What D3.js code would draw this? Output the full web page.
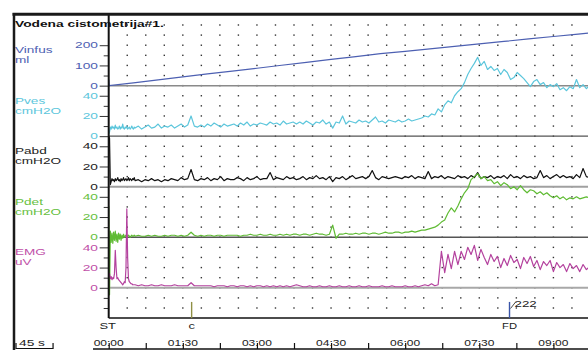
<!DOCTYPE html>
<html><head><meta charset="utf-8">
<script src="https://cdn.jsdelivr.net/npm/d3@7"></script>
<style>html,body{margin:0;padding:0;background:#fff;} svg{display:block;font-family:"Liberation Sans",Arial,sans-serif;}</style>
</head><body><svg id="chart" width="588" height="350"></svg>
<script>
// ---------------- DATA ----------------
const chartTitle = "Vodena cistometrija#1.";
const channelNames = ["Vinfus", "Pves", "Pabd", "Pdet", "EMG"];
const channelUnits = ["ml", "cmH2O", "cmH2O", "cmH2O", "uV"];
const channelColors = ["#4d60b2", "#5cc6dc", "#111111", "#5fbb33", "#b4429e"];
const channelLabelColors = ["#4d60b2", "#5cc6dc", "#222222", "#66c040", "#c050a8"];
const channelTickLabels = [[0, 100, 200], [0, 20, 40], [0, 20, 40], [0, 20, 40], [0, 20, 40]];
const channelFullScale = [250, 50, 50, 50, 50];

// infused volume (ml) vs time (s)
const vinfusTimes = [0, 0.6, 30, 60, 90, 120, 150, 180, 210, 240, 270, 300, 330, 360, 390, 420, 450, 480, 510, 540, 570, 582];
const vinfusValues = [30, 0, 14, 29, 43, 58, 72, 86, 101, 115, 130, 144, 158, 170, 182, 194, 207, 219, 231, 243, 255, 260];

// pressure / EMG sample times (s): 1 s for the first 32 s, then every 4 s
const sampleTimes = [...d3.range(0, 32, 1), ...d3.range(32, 585, 4)];

const pvesValues = [
  2,4,9,7,10,8,9,7,11,8, 9,7,8,10,7,9,8,12,8,7, 9,8,10,7,8,9,7,8,10,8, 7,9,
  8,10,7,9,11,8,9,12,8,10,
  9,11,8,10,12,9,11,20,10,9,
  11,9,12,10,13,11,9,12,10,11,
  12,10,13,11,14,10,12,11,13,12,
  11,14,12,13,11,15,12,13,14,12,
  14,12,15,13,11,14,13,16,12,14,
  8,14,13,20,12,15,14,13,16,14,
  15,13,16,19,14,15,13,16,15,14,
  16,14,15,17,15,16,17,18,20,19,
  22,21,27,24,31,35,33,40,44,47,
  53,61,67,72,78,70,74,66,69,65,
  67,61,66,63,56,58,63,60,57,53,
  49,54,56,51,53,48,51,49,52,46,
  48,45,49,47,56,48,51,47,50
];
const pabdValues = [
  50,48,2,5,8,6,7,5,8,6, 7,9,6,7,5,8,6,7,9,6, 7,8,6,7,9,6,8,7,6,8, 7,9,
  6,7,5,7,6,8,6,7,5,7,
  6,8,7,6,9,7,8,17,7,6,
  8,7,9,6,8,7,10,6,8,7,
  7,9,8,6,9,7,8,10,7,8,
  8,14,7,9,8,7,10,8,9,7,
  8,10,7,9,8,11,8,9,7,10,
  5,9,8,10,7,9,11,8,9,10,
  8,10,16,9,7,10,9,8,9,10,
  9,8,10,9,11,8,10,9,8,15,
  8,10,9,11,8,10,9,8,11,9,
  10,8,11,9,14,8,10,9,11,8,
  10,9,11,8,12,9,10,8,11,9,
  10,8,9,16,9,11,8,10,12,9,
  11,9,10,8,12,9,18,10,9
];
const pdetValues = [
  31,-57,6,-5,4,-6,5,-3,6,-4, 3,-5,4,-2,3,-3,2,-1,3,0, 1,2,0,1,2,1,0,1,2,1, 1,2,
  1,2,1,1,2,1,2,1,1,2,
  1,2,2,1,2,1,2,5,2,1,
  2,1,2,2,1,2,2,1,2,2,
  2,2,1,2,2,3,2,2,3,2,
  2,3,2,2,3,2,3,2,3,3,
  2,3,3,2,3,4,3,3,2,3,
  12,-1,3,3,4,3,3,4,3,4,
  4,3,4,4,3,4,5,4,4,5,
  5,4,5,5,6,5,6,7,7,8,
  9,10,12,15,17,24,29,25,31,38,
  44,48,57,60,63,58,60,56,57,53,
  55,51,54,52,48,50,47,51,47,44,
  47,46,43,45,42,44,41,39,41,38,
  40,37,39,38,40,38,39,40,39
];
const emgValues = [
  11,14,9,11,8,10,9,14,37,20, 9,10,8,7,6,5,4,3,4,6, 5,20,78,30,9,6,5,4,4,3, 3,3,
  3,2,3,2,2,3,2,2,3,2,
  2,2,3,2,2,2,2,5,2,2,
  2,2,2,2,1,2,2,2,1,2,
  2,1,2,2,1,2,1,2,2,1,
  2,1,2,1,2,1,2,1,2,3,
  2,1,1,2,1,1,2,1,1,2,
  1,1,2,1,1,2,1,1,2,1,
  1,2,1,1,1,2,1,1,2,1,
  1,1,2,1,1,2,1,2,3,2,
  4,2,3,36,15,33,19,36,23,36,
  28,40,33,42,27,38,30,23,33,26,
  31,20,29,22,32,25,28,19,30,24,
  31,21,27,18,26,22,27,16,25,20,
  23,16,24,19,22,16,23,18,21
];

const timeTickSeconds = [0, 45, 90, 135, 180, 225, 270, 315, 360, 405, 450, 495, 540];
const timeLabelSeconds = [0, 90, 180, 270, 360, 450, 540];
const timeLabels = ["00:00", "01:30", "03:00", "04:30", "06:00", "07:30", "09:00"];
const eventLabels = ["ST", "c", "FD"];
const eventTimes = [0, 100.7, 486.7];
const eventColors = ["#222222", "#8f8f45", "#3a55a8"];
const fdVolumeLabel = "222";
const scaleBarLabel = "45 s";

// ---------------- LAYOUT ----------------
const rowTop = 25, rowStep = 10.107;
const zeroRows = [6, 11, 16, 21, 26];
const plotTop = 14, plotBottom = rowTop + 29 * rowStep; // ~318
const axisX = 108.7;
const sx = 1.6, fs = 8.6;

const svg = d3.select("#chart");
const x = d3.scaleLinear().domain([0, 582]).range([axisX, 588]);
const yScales = channelFullScale.map((full, i) =>
  d3.scaleLinear().domain([0, full]).range([rowTop + zeroRows[i] * rowStep, rowTop + (zeroRows[i] - 5) * rowStep]));

function stext(str, px, py, opt = {}) {
  return svg.append("text")
    .attr("transform", `translate(${px},${py}) scale(${opt.sx || sx},1)`)
    .attr("text-anchor", opt.anchor || "start")
    .style("font-size", (opt.fs || fs) + "px")
    .style("font-weight", opt.bold ? "bold" : "normal")
    .style("fill", opt.color || "#222")
    .text(str);
}

// grid dots
const dotTimes = d3.range(1, 26).map(k => k * 22.5);
const dotRows = d3.range(0, 29);
const gDots = svg.append("g");
dotRows.forEach(j => {
  dotTimes.forEach(t => {
    gDots.append("rect").attr("x", x(t) - 0.7).attr("y", rowTop + j * rowStep - 0.7)
      .attr("width", 1.4).attr("height", 1.4).attr("fill", "#333");
  });
});

// zero lines
const zeroLineColors = ["#8a8a8a", "#555", "#a0a0a0", "#555", "#a8a8a8"];
const zeroLineWidths = [1.5, 1.2, 2, 1.5, 2];
yScales.forEach((ys, i) => {
  svg.append("line").attr("x1", axisX).attr("x2", 588).attr("y1", ys(0)).attr("y2", ys(0))
    .attr("stroke", zeroLineColors[i]).attr("stroke-width", zeroLineWidths[i]);
});

// clip
svg.append("clipPath").attr("id", "plotclip").append("rect")
  .attr("x", axisX).attr("y", plotTop).attr("width", 588 - axisX).attr("height", plotBottom - plotTop);
const gTr = svg.append("g").attr("clip-path", "url(#plotclip)");

// Vinfus
gTr.append("path").datum(vinfusTimes.map((t, i) => [t, vinfusValues[i]]))
  .attr("d", d3.line().x(d => x(d[0])).y(d => yScales[0](d[1])))
  .attr("fill", "none").attr("stroke", channelColors[0]).attr("stroke-width", 1.2);

const seriesValues = [null, pvesValues, pabdValues, pdetValues, emgValues];
[1, 2, 3, 4].forEach(i => {
  gTr.append("path").datum(sampleTimes.map((t, k) => [t, seriesValues[i][k]]))
    .attr("d", d3.line().x(d => x(d[0])).y(d => yScales[i](d[1])))
    .attr("fill", "none").attr("stroke", channelColors[i]).attr("stroke-width", 1.2)
    .attr("stroke-linejoin", "round");
});

// left axes ticks
yScales.forEach((ys, i) => {
  const full = channelFullScale[i];
  const minor = d3.range(0, full, full / 5).filter(v => !channelTickLabels[i].includes(v));
  const gMinor = svg.append("g").attr("transform", `translate(${axisX},0)`)
    .call(d3.axisLeft(ys).tickValues(minor).tickSize(5).tickFormat(""));
  gMinor.select(".domain").remove();
  const gMajor = svg.append("g").attr("transform", `translate(${axisX},0)`)
    .call(d3.axisLeft(ys).tickValues(channelTickLabels[i]).tickSize(9).tickFormat(""));
  gMajor.select(".domain").remove();
  svg.selectAll(".tick line").attr("stroke", "#333");
  channelTickLabels[i].forEach(v => {
    stext(String(v), 98, ys(v) + 3.2, { anchor: "end", color: channelLabelColors[i] });
  });
  stext(channelNames[i], 15, ys(0) - 32.5, { color: channelLabelColors[i], sx: 1.58 });
  stext(channelUnits[i], 15, ys(0) - 22.5, { color: channelLabelColors[i], sx: 1.58 });
});
// event strip ticks (rows 27, 28)
const evScale = d3.scaleLinear().domain([0, 2]).range([rowTop + 27 * rowStep, rowTop + 29 * rowStep]);
const gEv = svg.append("g").attr("transform", `translate(${axisX},0)`)
  .call(d3.axisLeft(evScale).tickValues([0, 1]).tickSize(5).tickFormat(""));
gEv.select(".domain").remove();
gEv.selectAll("line").attr("stroke", "#333");

// plot left axis & bottom border
svg.append("line").attr("x1", axisX).attr("x2", axisX).attr("y1", plotTop).attr("y2", plotBottom)
  .attr("stroke", "#111").attr("stroke-width", 2);
svg.append("line").attr("x1", axisX).attr("x2", 588).attr("y1", plotBottom).attr("y2", plotBottom)
  .attr("stroke", "#111").attr("stroke-width", 1.5);

// events
eventTimes.forEach((t, i) => {
  if (i > 0) {
    svg.append("line").attr("x1", x(t)).attr("x2", x(t)).attr("y1", rowTop + 27.4 * rowStep).attr("y2", plotBottom)
      .attr("stroke", eventColors[i]).attr("stroke-width", 1.4);
  }
  stext(eventLabels[i], x(t) - (i === 0 ? 1 : 0), 329, { anchor: "middle", sx: i === 2 ? 1.3 : 1.5 });
});
// FD volume annotation
const fdX = x(eventTimes[2]);
svg.append("line").attr("x1", fdX + 1).attr("y1", 308.5).attr("x2", fdX + 6.5).attr("y2", 301.5)
  .attr("stroke", "#333").attr("stroke-width", 0.9);
stext(fdVolumeLabel, fdX + 5, 306.7, { sx: 1.55 });

// time axis
const timeAxisY = 349;
const gT = svg.append("g").attr("transform", `translate(0,${timeAxisY})`)
  .call(d3.axisBottom(x).tickValues(timeTickSeconds).tickSize(-6).tickFormat(""));
gT.select(".domain").remove();
gT.selectAll("line").attr("stroke", "#111").attr("stroke-width", 1.2);
svg.append("line").attr("x1", 93).attr("x2", 588).attr("y1", timeAxisY).attr("y2", timeAxisY)
  .attr("stroke", "#111").attr("stroke-width", 1.5);
timeLabelSeconds.forEach((t, i) => {
  svg.append("rect").attr("x", x(t) - 1.8).attr("y", 339).attr("width", 3.6).attr("height", 8).attr("fill", "#fff");
});
timeLabelSeconds.forEach((t, i) => {
  stext(timeLabels[i], x(t), 346.2, { anchor: "middle", sx: 1.4 });
});
gT.raise();

// 45 s scale bar
const barLen = x(45) - x(0);
svg.append("path").attr("d", `M16,343 V348.5 H${16 + barLen} V343`).attr("fill", "none")
  .attr("stroke", "#111").attr("stroke-width", 1.2);
stext(scaleBarLabel, 19, 346, { sx: 1.6 });

// outer frame
svg.append("line").attr("x1", 12.5).attr("x2", 588).attr("y1", 14.2).attr("y2", 14.2)
  .attr("stroke", "#1a1a1a").attr("stroke-width", 3);
svg.append("line").attr("x1", 14).attr("x2", 14).attr("y1", 13).attr("y2", 350)
  .attr("stroke", "#1a1a1a").attr("stroke-width", 2.5);

// title
stext(chartTitle, 15, 26.6, { bold: true, color: "#111", sx: 1.6 });
</script></body></html>
